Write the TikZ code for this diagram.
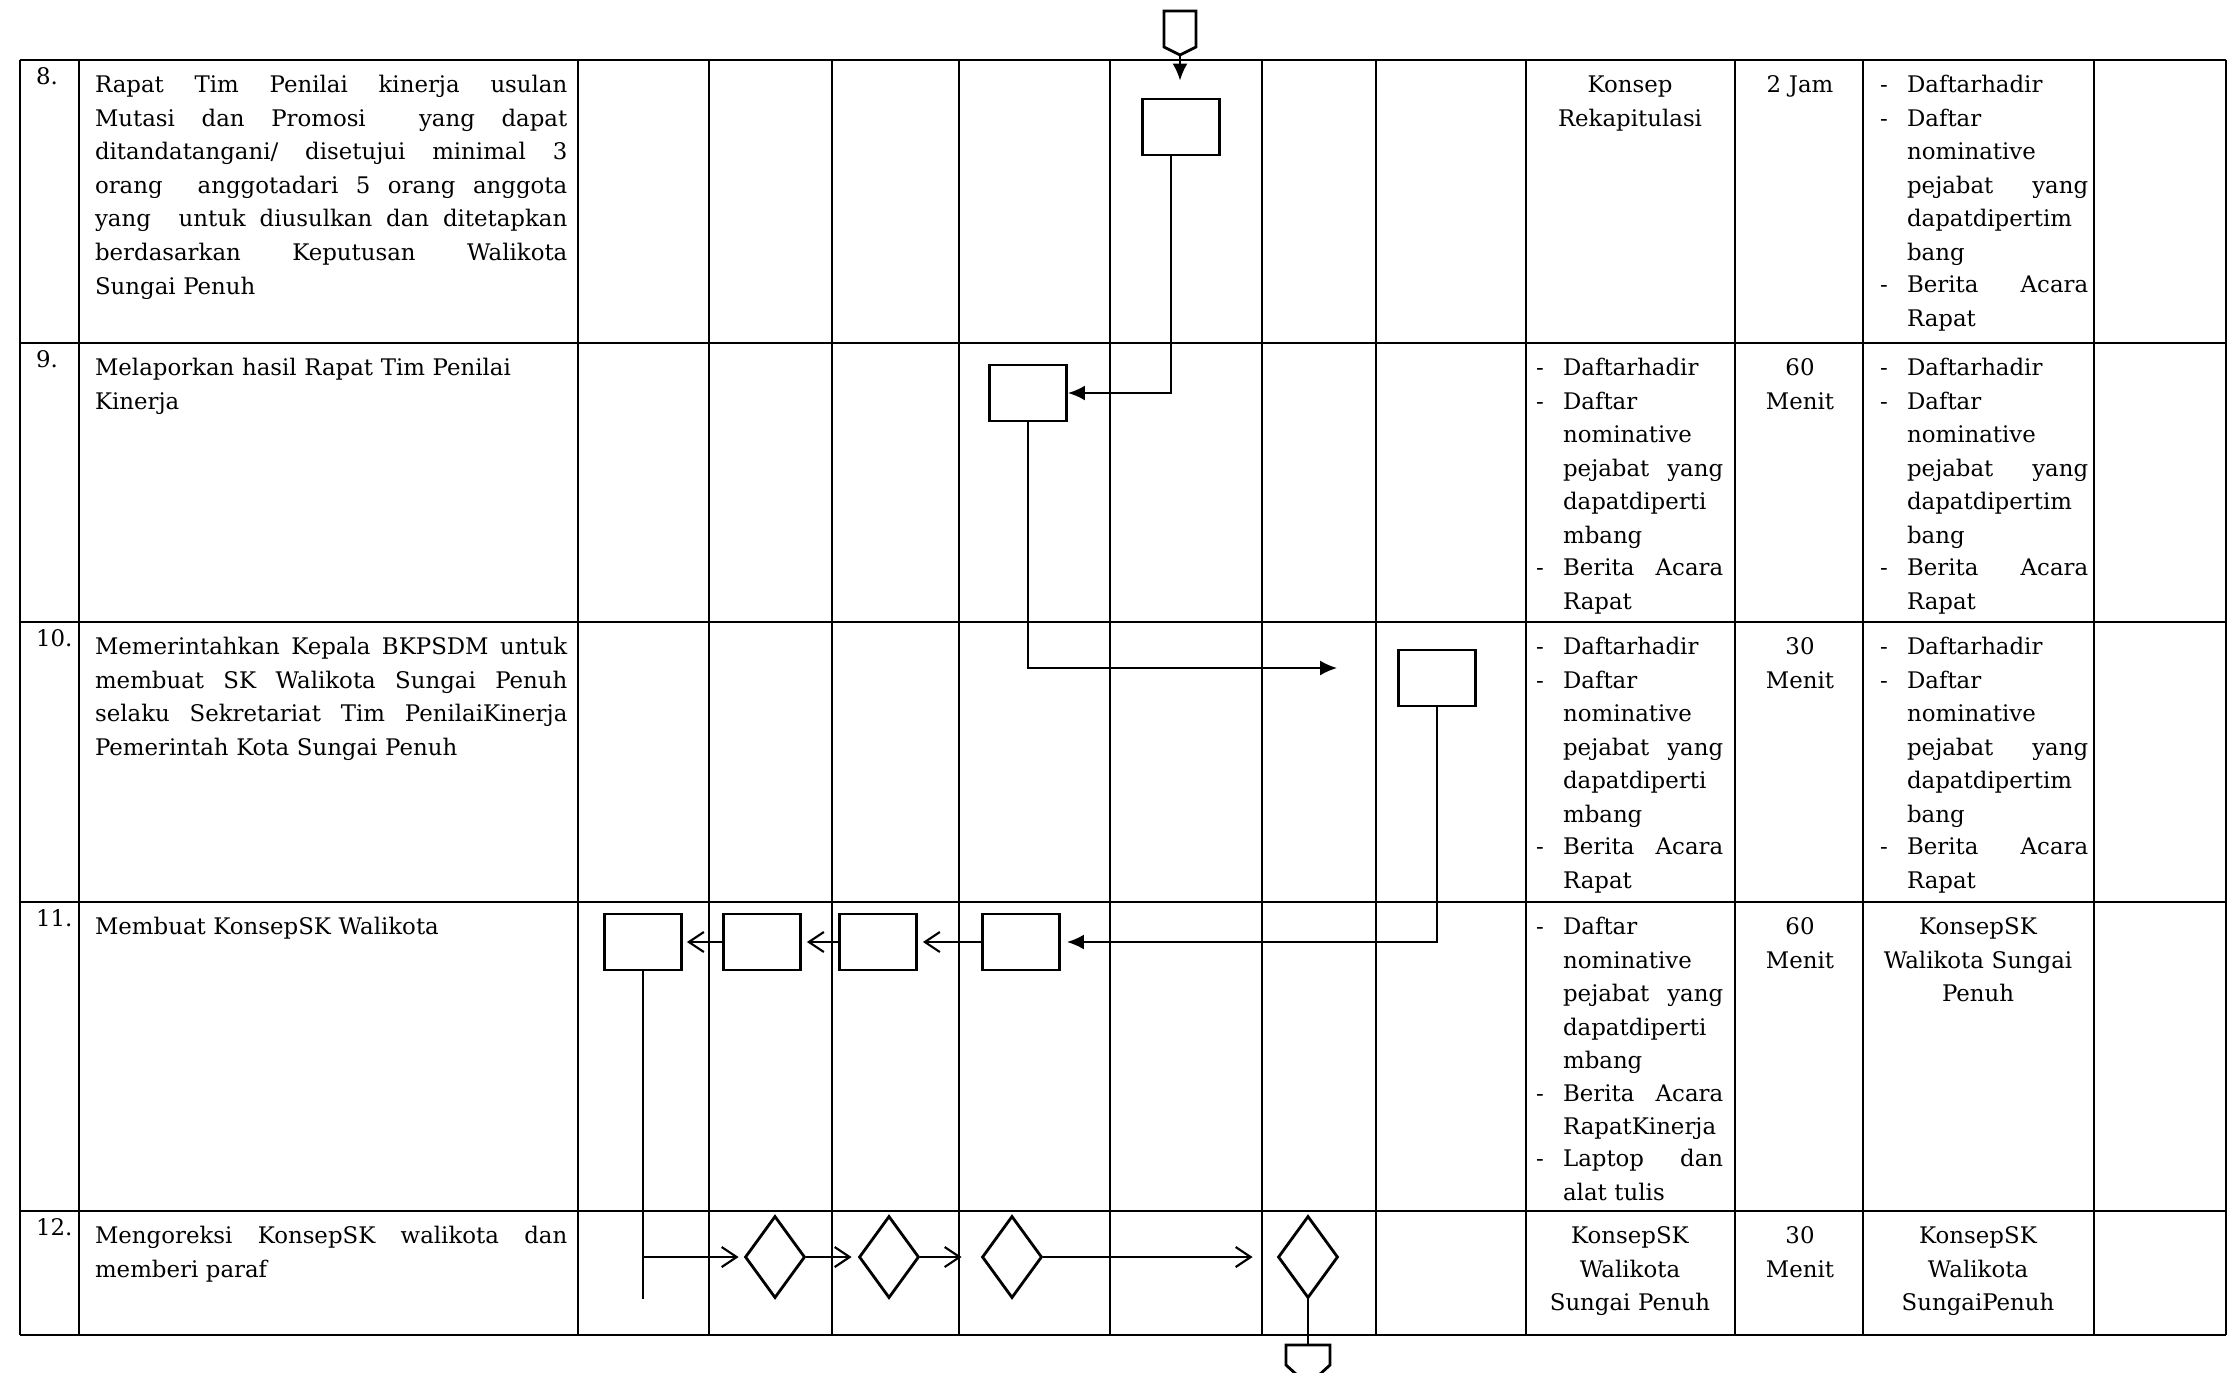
\documentclass[tikz,border=0pt]{standalone}
\usepackage{fontspec}
\setmainfont{DejaVu Serif}
\usetikzlibrary{arrows.meta,shapes.geometric,calc}
\setlength{\parskip}{0pt}
\newcommand{\cellfont}{\fontsize{6.5pt}{9.55pt}\selectfont}
\newlength{\dashw}
\setlength{\dashw}{0.27cm}
\newcommand{\jl}[1]{\makebox[\hsize][s]{\spaceskip=0pt\relax#1}}
\newcommand{\itm}[1]{\noindent\strut\makebox[\dashw][l]{-}\parbox[t]{\dimexpr\hsize-\dashw\relax}{#1}\par}
\newcommand{\listin}{\itm{Daftarhadir}\itm{Daftar\\nominative\\\jl{pejabat yang}\\dapatdiperti\\mbang}\itm{\jl{Berita Acara}\\Rapat}}
\newcommand{\listout}{\itm{Daftarhadir}\itm{Daftar\\nominative\\\jl{pejabat yang}\\dapatdipertim\\bang}\itm{\jl{Berita Acara}\\Rapat}}
\begin{document}
\begin{tikzpicture}[x=0.01cm, y=-0.01cm, line width=0.6pt, >={Latex[length=0.17cm,width=0.15cm]},
  tbl/.style={line width=0.6pt},
  box/.style={draw, line width=0.8pt, minimum width=0.77cm, minimum height=0.56cm, inner sep=0pt},
  dec/.style={draw, diamond, line width=0.8pt, minimum width=0.6cm, minimum height=0.82cm, inner sep=0pt},
  openarr/.style={-{Straight Barb[length=0.15cm,width=0.2cm]}},
  num/.style={anchor=base west, inner sep=0pt, font=\cellfont},
  desc/.style={anchor=north west, inner sep=0pt, text width=4.72cm, font=\cellfont},
  lst/.style={anchor=north west, inner sep=0pt, font=\cellfont},
  ctr/.style={anchor=north, inner sep=0pt, align=center, font=\cellfont}]
\useasboundingbox (0,0) rectangle (2234,1372);
\foreach \x in {20,79,578,709,832,959,1110,1262,1376,1526,1735,1863,2094,2226}
  \draw[tbl] (\x,60) -- (\x,1335);
\foreach \y in {60,343,622,902,1211,1335}
  \draw[tbl] (20,\y) -- (2226,\y);
\node[num] (n8) at (35,84) {8.};
\node[num] (n9) at (35,367) {9.};
\node[num] (n10) at (35,646) {10.};
\node[num] (n11) at (35,926) {11.};
\node[num] (n12) at (35,1235) {12.};
\node[desc] (t8) at (94,68) {\noindent\strut\jl{Rapat Tim Penilai kinerja usulan}\\\jl{Mutasi dan Promosi\ \ yang dapat}\\\jl{ditandatangani/ disetujui minimal 3}\\\jl{orang\ \ anggotadari 5 orang anggota}\\\jl{yang\ \ untuk diusulkan dan ditetapkan}\\\jl{berdasarkan Keputusan Walikota}\\Sungai Penuh};
\node[desc] (t9) at (94,351) {\noindent\strut Melaporkan hasil Rapat Tim Penilai\\Kinerja};
\node[desc] (t10) at (94,630) {\noindent\strut\jl{Memerintahkan Kepala BKPSDM untuk}\\\jl{membuat SK Walikota Sungai Penuh}\\\jl{selaku Sekretariat Tim PenilaiKinerja}\\Pemerintah Kota Sungai Penuh};
\node[desc] (t11) at (94,910) {\noindent\strut Membuat KonsepSK Walikota};
\node[desc] (t12) at (94,1219) {\noindent\strut\jl{Mengoreksi KonsepSK walikota dan}\\memberi paraf};
\node[box] (b8) at (1181,127) {};
\node[box] (b9) at (1028,393) {};
\node[box] (b10) at (1437,678) {};
\node[box] (b11a) at (643,942) {};
\node[box] (b11b) at (762,942) {};
\node[box] (b11c) at (878,942) {};
\node[box] (b11d) at (1021,942) {};
\node[dec] (d1) at (775,1257) {};
\node[dec] (d2) at (889,1257) {};
\node[dec] (d3) at (1012,1257) {};
\node[dec] (d4) at (1308,1257) {};
\draw[line width=0.8pt] (1164,11) -- (1196,11) -- (1196,47) -- (1180,55) -- (1164,47) -- cycle;
\coordinate (cTop) at (1180,55);
\draw[line width=0.8pt] (1286,1345) -- (1330,1345) -- (1330,1365) -- (1308,1385) -- (1286,1365) -- cycle;
\coordinate (cBot) at (1308,1345);
\draw[->, shorten >=0.17cm] (cTop) -- (cTop |- b8.north);
\draw[->] ([xshift=-0.1cm]b8.south) |- (b9.east);
\draw[->] (b9.south) |- ($(b10.west)+(-60,-10)$);
\draw[->, shorten >=0.06cm] (b10.south) |- (b11d.east);
\draw[openarr, shorten >=0.05cm] (b11d) -- (b11c);
\draw[openarr, shorten >=0.05cm] (b11c) -- (b11b);
\draw[openarr, shorten >=0.04cm] (b11b) -- (b11a);
\draw (b11a.south) -- (b11a.south |- d1.south);
\draw[openarr, shorten >=0.05cm] (b11a.south |- d1) -- (d1.west);
\draw[openarr, shorten >=0.06cm] (d1) -- (d2);
\draw[openarr, shorten >=0.19cm] (d2) -- (d3);
\draw[openarr, shorten >=0.24cm] (d3) -- (d4);
\draw (d4.south) -- (cBot);
\node[ctr, text width=2.0cm] (m8) at (1630,68) {\strut Konsep\\Rekapitulasi};
\node[lst, text width=1.87cm] (m9) at (1535,351) {\listin};
\node[lst, text width=1.87cm] (m10) at (1535,630) {\listin};
\node[lst, text width=1.87cm] (m11) at (1535,910) {\itm{Daftar\\nominative\\\jl{pejabat yang}\\dapatdiperti\\mbang}\itm{\jl{Berita Acara}\\RapatKinerja}\itm{\jl{Laptop dan}\\alat tulis}};
\node[ctr, text width=2.0cm] (m12) at (1630,1219) {\strut KonsepSK\\Walikota\\Sungai Penuh};
\node[ctr, text width=1.1cm] (w8) at (1800,68) {\strut 2 Jam};
\node[ctr, text width=1.1cm] (w9) at (1800,351) {\strut 60\\Menit};
\node[ctr, text width=1.1cm] (w10) at (1800,630) {\strut 30\\Menit};
\node[ctr, text width=1.1cm] (w11) at (1800,910) {\strut 60\\Menit};
\node[ctr, text width=1.1cm] (w12) at (1800,1219) {\strut 30\\Menit};
\node[lst, text width=2.08cm] (o8) at (1879,68) {\listout};
\node[lst, text width=2.08cm] (o9) at (1879,351) {\listout};
\node[lst, text width=2.08cm] (o10) at (1879,630) {\listout};
\node[ctr, text width=2.2cm] (o11) at (1978,910) {\strut KonsepSK\\Walikota Sungai\\Penuh};
\node[ctr, text width=2.2cm] (o12) at (1978,1219) {\strut KonsepSK\\Walikota\\SungaiPenuh};
\end{tikzpicture}
\end{document}
